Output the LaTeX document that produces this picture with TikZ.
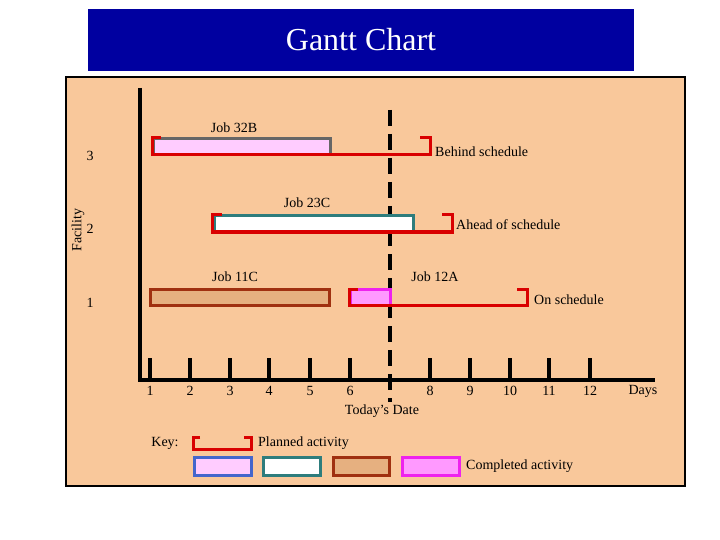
\documentclass[tikz,border=0pt]{standalone}
\usepackage{fontspec}
\setmainfont{Liberation Serif}
\begin{document}
\begin{tikzpicture}[x=1pt,y=-1pt,
  lbl/.style={font=\fontsize{14}{16}\selectfont,inner sep=0pt},
  plan/.style={draw=red!85!black,line width=3pt},
  bar/.style={line width=3pt}]
\definecolor{peach}{HTML}{F9C89B}
\definecolor{navy}{HTML}{0000A0}
\definecolor{teal2}{HTML}{2E7D7D}
\definecolor{brown2}{HTML}{A03010}
\definecolor{tan2}{HTML}{E6B080}
\definecolor{pink1}{HTML}{FFCCFF}
\definecolor{pink2}{HTML}{FF99FF}
\definecolor{mag}{HTML}{EE22EE}
\definecolor{blue2}{HTML}{4466CC}
\useasboundingbox (0,0) rectangle (720,540);
\fill[white] (0,0) rectangle (720,540);
\node[fill=navy,minimum width=546pt,minimum height=62pt,inner sep=0pt,text=white,font=\fontsize{32}{36}\selectfont] (title) at (361,40) {Gantt Chart};
\draw[fill=peach,line width=2.5pt] (66,77) rectangle (685,486);
% axes
\draw[line width=3.5pt] (140,88) -- (140,380) -- (655,380);
\foreach \x/\l in {150/1,190/2,230/3,269/4,310/5,350/6,430/8,470/9,510/10,549/11,590/12}{
  \draw[line width=3.5pt] (\x,358) -- (\x,380);
  \node[lbl] at (\x,391) {\l};}
\draw[line width=4.5pt,dash pattern=on 16pt off 8pt] (390,110) -- (390,402);
\node[lbl] (today) at (382,411) {Today’s Date};
\node[lbl] (days) at (643,391) {Days};
\node[lbl,rotate=90] (fac) at (78,230) {Facility};
\node[lbl] at (90,156) {3};
\node[lbl] at (90,229) {2};
\node[lbl] at (90,303) {1};
% Job 32B
\draw[bar,draw=gray!80!black,fill=pink1] (153,139) rectangle (330,155);
\draw[plan] (161,138) -- (152,138) -- (152,155) -- (430,155) -- (430,138) -- (420,138);
\node[lbl] at (234,128) {Job 32B};
\node[lbl,anchor=west] at (435,152) {Behind schedule};
% Job 23C
\draw[bar,draw=teal2,fill=white] (214,216) rectangle (413,232);
\draw[plan] (222,215) -- (212,215) -- (212,232) -- (452,232) -- (452,215) -- (442,215);
\node[lbl] at (307,203) {Job 23C};
\node[lbl,anchor=west] at (456,225) {Ahead of schedule};
% Job 11C
\draw[bar,draw=brown2,fill=tan2] (150,289) rectangle (329,305);
\node[lbl] at (235,277) {Job 11C};
% Job 12A
\draw[bar,draw=mag,fill=pink2] (350,289) rectangle (390,305);
\draw[plan] (358,289) -- (349,289) -- (349,305) -- (527,305) -- (527,289) -- (517,289);
\node[lbl] at (435,277) {Job 12A};
\node[lbl,anchor=west] at (534,300) {On schedule};
% Key
\node[lbl] at (165,443) {Key:};
\draw[plan] (200,437) -- (193,437) -- (193,449) -- (251,449) -- (251,437) -- (244,437);
\node[lbl,anchor=west] at (258,443) {Planned activity};
\draw[bar,draw=blue2,fill=pink1] (194,457) rectangle (251,475);
\draw[bar,draw=teal2,fill=white] (263,457) rectangle (320,475);
\draw[bar,draw=brown2,fill=tan2] (333,457) rectangle (389,475);
\draw[bar,draw=mag,fill=pink2] (402,457) rectangle (459,475);
\node[lbl,anchor=west] at (466,466) {Completed activity};
\end{tikzpicture}
\end{document}
